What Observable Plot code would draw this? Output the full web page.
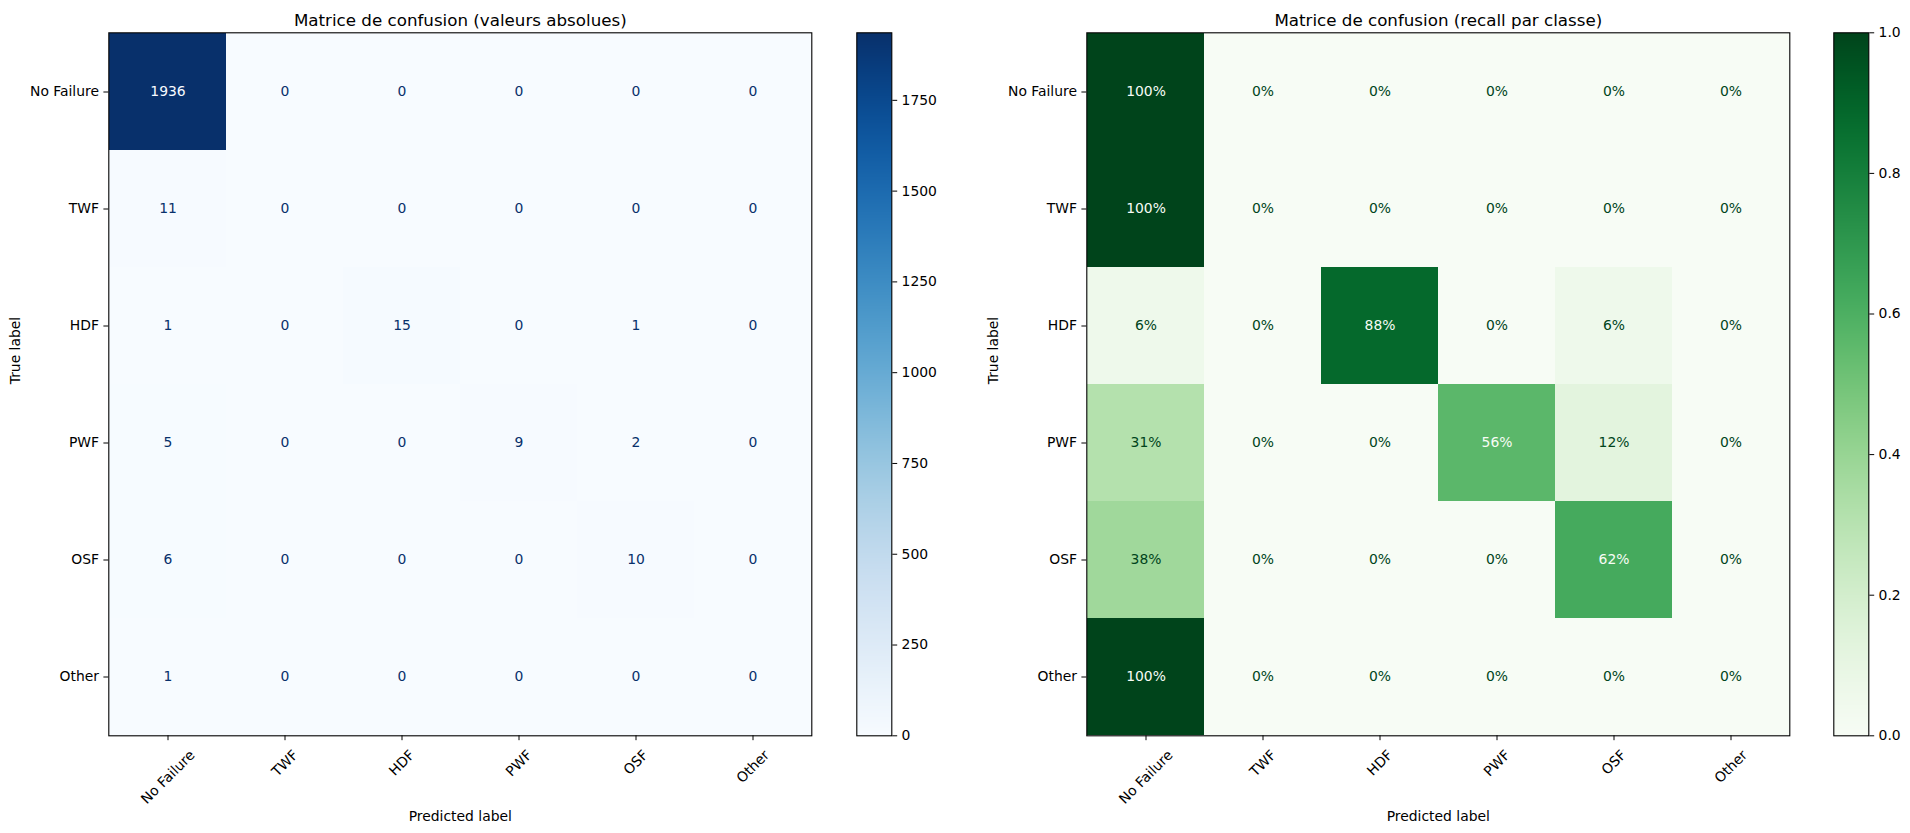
<!DOCTYPE html>
<html>
<head>
<meta charset="utf-8">
<script src="https://cdn.jsdelivr.net/npm/d3@7"></script>
<script src="https://cdn.jsdelivr.net/npm/@observablehq/plot@0.6"></script>
<style>
  html, body { margin: 0; padding: 0; background: #fff; }
  #fig { position: relative; width: 1910px; height: 833px; overflow: hidden; background: #fff; }
  #fig > div { position: absolute; top: 0; }
  #fig svg { display: block; }
</style>
</head>
<body>
<div id="fig"></div>
<script>
// Classes (true label = row, predicted label = column)
const classes = ["No Failure", "TWF", "HDF", "PWF", "OSF", "Other"];

// Confusion matrix counts, one array per true class
const rowNoFailure = [1936, 0, 0, 0, 0, 0];
const rowTWF       = [11, 0, 0, 0, 0, 0];
const rowHDF       = [1, 0, 15, 0, 1, 0];
const rowPWF       = [5, 0, 0, 9, 2, 0];
const rowOSF       = [6, 0, 0, 0, 10, 0];
const rowOther     = [1, 0, 0, 0, 0, 0];

// Colorbar tick values
const countTicks  = [0, 250, 500, 750, 1000, 1250, 1500, 1750];
const recallTicks = [0, 0.2, 0.4, 0.6, 0.8, 1.0];

// Texts
const titleCounts = "Matrice de confusion (valeurs absolues)";
const titleRecall = "Matrice de confusion (recall par classe)";
const xLabel = "Predicted label";
const yLabel = "True label";

const rows = [rowNoFailure, rowTWF, rowHDF, rowPWF, rowOSF, rowOther];

// Long-format tables for the cell marks
const countCells = [];
const recallCells = [];
rows.forEach((row, i) => {
  const total = d3.sum(row);
  row.forEach((v, j) => {
    countCells.push({true: classes[i], pred: classes[j], value: v});
    recallCells.push({true: classes[i], pred: classes[j], value: total ? v / total : 0});
  });
});

// Percent with round-half-to-even, as Python's "{:.0%}" does
function pct(r) {
  const v = r * 100;
  const f = Math.floor(v);
  let n;
  if (Math.abs(v - f - 0.5) < 1e-9) n = (f % 2 === 0) ? f : f + 1;
  else n = Math.round(v);
  return n + "%";
}

const FONT = "DejaVu Sans";
const FS = 13.9;
const TICK = 4.9;
const ctx = document.createElement("canvas").getContext("2d");
ctx.font = `${FS}px "${FONT}"`;
const textW = s => ctx.measureText(s).width;

const FRAME = 703;
const TOP = 32.3;
const BOTTOM = 833 - TOP - FRAME;

function heatmap({data, max, scheme, light, dark, thresh, format, title, width, marginLeft}) {
  return Plot.plot({
    width, height: 833,
    marginLeft, marginRight: width - marginLeft - FRAME,
    marginTop: TOP, marginBottom: BOTTOM,
    style: {fontFamily: FONT, fontSize: FS + "px", color: "black", background: "white", overflow: "visible"},
    x: {type: "band", domain: classes, padding: 0},
    y: {type: "band", domain: classes, padding: 0},
    color: {type: "linear", scheme, domain: [0, max]},
    marks: [
      Plot.cell(data, {x: "pred", y: "true", fill: "value", inset: 0}),
      Plot.text(data, {filter: d => d.value > thresh, x: "pred", y: "true", text: d => format(d.value), fill: light, lineAnchor: "middle"}),
      Plot.text(data, {filter: d => d.value <= thresh, x: "pred", y: "true", text: d => format(d.value), fill: dark, lineAnchor: "middle"}),
      Plot.frame({stroke: "black", strokeWidth: 1.1}),
      Plot.axisY({tickSize: TICK, tickPadding: TICK, label: null}),
      Plot.axisX({tickSize: TICK, tickFormat: () => "", label: null}),
      // rotated predicted-class labels, bounding box centred under each tick
      ...classes.map(c => Plot.text([c], {
        x: d => d, frameAnchor: "bottom",
        dy: 2 * TICK + 1.5 + (textW(c) + 16) / (2 * Math.SQRT2),
        rotate: -45, textAnchor: "middle", lineAnchor: "middle", fill: "black"
      })),
      Plot.text([title], {frameAnchor: "top", dy: -12.6, fontSize: 16.7, lineAnchor: "middle", fill: "black"}),
      Plot.text([xLabel], {frameAnchor: "bottom", dy: 80.5, lineAnchor: "middle", fill: "black"}),
      Plot.text([yLabel], {frameAnchor: "left", dx: -93.3, rotate: -90, lineAnchor: "middle", fill: "black"})
    ]
  });
}

function colorbar({max, scheme, ticks, format, width}) {
  const ml = 10.3;
  return Plot.plot({
    width, height: 833,
    marginLeft: ml, marginRight: width - ml - 35,
    marginTop: TOP, marginBottom: BOTTOM,
    style: {fontFamily: FONT, fontSize: FS + "px", color: "black", background: "white", overflow: "visible"},
    x: {domain: [0, 1], axis: null},
    y: {domain: [0, max]},
    color: {type: "linear", scheme, domain: [0, max]},
    marks: [
      Plot.raster({x1: 0, x2: 1, y1: 0, y2: max, fill: (x, y) => y, pixelSize: 1}),
      Plot.frame({stroke: "black", strokeWidth: 1.1}),
      Plot.axisY(ticks, {anchor: "right", tickSize: TICK, tickPadding: TICK, tickFormat: format, label: null})
    ]
  });
}

const countMax = d3.max(countCells, d => d.value);

const panels = [
  {left: 0, node: heatmap({
    data: countCells, max: countMax, scheme: "blues",
    light: "#f7fbff", dark: "#08306b", thresh: countMax / 2,
    format: d => String(d), title: titleCounts, width: 840, marginLeft: 108.3})},
  {left: 846, node: colorbar({max: countMax, scheme: "blues", ticks: countTicks, format: d => String(d), width: 100})},
  {left: 950, node: heatmap({
    data: recallCells, max: 1, scheme: "greens",
    light: "#f7fcf5", dark: "#00441b", thresh: 0.5,
    format: pct, title: titleRecall, width: 860, marginLeft: 136.3})},
  {left: 1823, node: colorbar({max: 1, scheme: "greens", ticks: recallTicks, format: d3.format(".1f"), width: 87})}
];

const fig = document.getElementById("fig");
for (const p of panels) {
  const div = document.createElement("div");
  div.style.left = p.left + "px";
  div.appendChild(p.node);
  fig.appendChild(div);
}
</script>
</body>
</html>
